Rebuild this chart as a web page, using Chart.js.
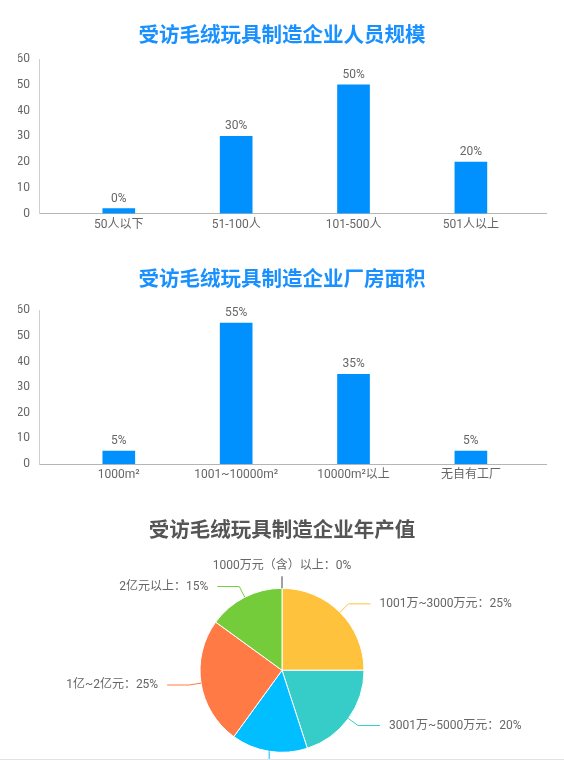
<!DOCTYPE html>
<html>
<head>
<meta charset="utf-8">
<script src="https://cdn.jsdelivr.net/npm/chart.js@4.4.1/dist/chart.umd.min.js"></script>
<style>
  html, body { margin: 0; padding: 0; background: #fff; overflow: hidden; }
  .box { position: absolute; left: 0; width: 564px; overflow: hidden; }
  #b1 { top: 0; height: 250px; }
  #b2 { top: 250px; height: 250px; }
  #b3 { top: 500px; height: 260px; }
  #bottomLine { position: absolute; left: 0; top: 759px; width: 564px; height: 1px; background: #e2e2e2; }
</style>
</head>
<body>
<div class="box" id="b1"><canvas id="c1" width="564" height="250"></canvas></div>
<div class="box" id="b2"><canvas id="c2" width="564" height="250"></canvas></div>
<div class="box" id="b3"><canvas id="c3" width="564" height="300"></canvas></div>
<div id="bottomLine"></div>
<script>
// ---- data ----
const title1 = '受访毛绒玩具制造企业人员规模';
const categories1 = ['50人以下', '51-100人', '101-500人', '501人以上'];
const values1 = [0, 30, 50, 20];

const title2 = '受访毛绒玩具制造企业厂房面积';
const categories2 = ['1000m²', '1001~10000m²', '10000m²以上', '无自有工厂'];
const values2 = [5, 55, 35, 5];

const title3 = '受访毛绒玩具制造企业年产值';
const pieLabels = ['1000万元（含）以上', '1001万~3000万元', '3001万~5000万元', '5001万~1亿元', '1亿~2亿元', '2亿元以上'];
const pieValues = [0, 25, 20, 15, 25, 15];
const pieColors = ['#404040', '#FFC23D', '#36CDC8', '#00BEFF', '#FF7A45', '#74CC3B'];

// ---- styles ----
const FONT = "Roboto, 'Noto Sans CJK SC', sans-serif";
const TITLE_FONT = "'Noto Sans CJK SC', 'Noto Sans', sans-serif";
const BAR_COLOR = '#0091FF';
const TEXT_COLOR = '#666';

Chart.defaults.animation = false;
Chart.defaults.font.family = FONT;

const barValueLabels = {
  id: 'barValueLabels',
  afterDatasetsDraw(chart) {
    const ctx = chart.ctx;
    chart.getSortedVisibleDatasetMetas().forEach(meta => {
      const ds = chart.data.datasets[meta.index];
      meta.data.forEach((bar, i) => {
        ctx.save();
        ctx.font = '12px ' + FONT;
        ctx.fillStyle = TEXT_COLOR;
        ctx.textAlign = 'center';
        ctx.textBaseline = 'bottom';
        ctx.fillText(ds.data[i].y + '%', bar.x, bar.y - 4);
        ctx.restore();
      });
    });
  }
};

function barChart(id, title, cats, vals, cfg) {
  return new Chart(document.getElementById(id), {
    type: 'bar',
    data: {
      datasets: [{
        data: cats.map((c, i) => ({ x: i, y: vals[i] })),
        backgroundColor: BAR_COLOR,
        barThickness: 32,
        minBarLength: 5
      }]
    },
    options: {
      responsive: false,
      layout: { padding: { left: 18, right: 18, top: 0, bottom: 0 } },
      plugins: {
        legend: { display: false },
        tooltip: { enabled: false },
        title: {
          display: true,
          text: title,
          color: '#1890FF',
          font: { family: TITLE_FONT, size: 20.5, weight: 'bold', lineHeight: 1.2 },
          padding: { top: cfg.titleTop, bottom: cfg.titleBottom }
        }
      },
      scales: {
        x: {
          type: 'linear',
          offset: false,
          min: -0.68,
          max: 3.64,
          grid: { display: false, drawTicks: false, offset: false },
          border: { display: true, color: '#b5b5b5' },
          afterBuildTicks: s => { s.ticks = cats.map((c, i) => ({ value: i })); },
          afterFit: s => { s.height = cfg.xHeight; },
          ticks: {
            autoSkip: false, maxRotation: 0, padding: 4,
            color: TEXT_COLOR, font: { size: 12 },
            callback: v => cats[v]
          }
        },
        y: {
          min: 0, max: 60,
          grid: { display: false, drawTicks: false },
          border: { display: true, color: '#cfcfcf' },
          afterFit: s => { s.width = 21; },
          ticks: { stepSize: 10, padding: 9, color: TEXT_COLOR, font: { size: 12 } }
        }
      }
    },
    plugins: [barValueLabels]
  });
}

barChart('c1', title1, categories1, values1, { titleTop: 21.5, titleBottom: 13, xHeight: 36.5 });
barChart('c2', title2, categories2, values2, { titleTop: 16, titleBottom: 19.7, xHeight: 36 });

const pieOutLabels = {
  id: 'pieOutLabels',
  afterDatasetsDraw(chart) {
    const ctx = chart.ctx;
    const meta = chart.getDatasetMeta(0);
    const len1 = 12, len2 = 22, gap = 9;
    meta.data.forEach((arc, i) => {
      const p = arc.getProps(['x', 'y', 'startAngle', 'endAngle', 'outerRadius'], true);
      const mid = (p.startAngle + p.endAngle) / 2;
      const dx = Math.cos(mid), dy = Math.sin(mid);
      const x0 = p.x + dx * p.outerRadius, y0 = p.y + dy * p.outerRadius;
      const x1 = p.x + dx * (p.outerRadius + len1), y1 = p.y + dy * (p.outerRadius + len1);
      const text = pieLabels[i] + '：' + pieValues[i] + '%';
      ctx.save();
      ctx.strokeStyle = pieColors[i];
      ctx.lineWidth = 1;
      ctx.font = '12px ' + FONT;
      ctx.fillStyle = TEXT_COLOR;
      ctx.beginPath();
      if (Math.abs(dx) < 0.2) {
        ctx.moveTo(x0, y0);
        ctx.lineTo(x0, y1);
        ctx.stroke();
        ctx.textAlign = 'center';
        ctx.textBaseline = 'middle';
        ctx.fillText(text, x0, y1 + (dy < 0 ? -10 : 14));
      } else {
        const side = dx > 0 ? 1 : -1;
        const x2 = x1 + side * len2;
        ctx.moveTo(x0, y0);
        ctx.lineTo(x1, y1);
        ctx.lineTo(x2, y1);
        ctx.stroke();
        ctx.textAlign = side > 0 ? 'left' : 'right';
        ctx.textBaseline = 'middle';
        ctx.fillText(text, x2 + side * gap, y1);
      }
      ctx.restore();
    });
  }
};

new Chart(document.getElementById('c3'), {
  type: 'pie',
  data: {
    labels: pieLabels,
    datasets: [{
      data: pieValues,
      backgroundColor: pieColors,
      borderColor: '#fff',
      borderWidth: 1,
      radius: 82
    }]
  },
  options: {
    responsive: false,
    layout: { padding: { left: 0, right: 0, top: 0, bottom: 1 } },
    plugins: {
      legend: { display: false },
      tooltip: { enabled: false },
      title: {
        display: true,
        text: title3,
        color: '#555',
        font: { family: TITLE_FONT, size: 20.5, weight: 'bold', lineHeight: 1.2 },
        padding: { top: 17, bottom: 0 }
      }
    }
  },
  plugins: [pieOutLabels]
});
</script>
</body>
</html>
